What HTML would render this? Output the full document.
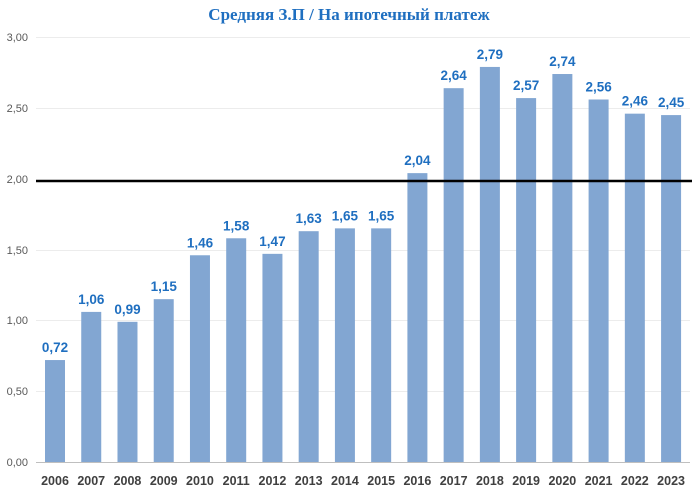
<!DOCTYPE html>
<html><head><meta charset="utf-8"><style>body{margin:0;background:#fff}svg{display:block}</style></head><body>
<svg width="700" height="490" xmlns="http://www.w3.org/2000/svg" font-family="Liberation Sans, sans-serif">
<text x="349" y="20" text-anchor="middle" font-family="Liberation Serif, serif" font-weight="bold" font-size="17" fill="#1f6fc0">Средняя З.П / На ипотечный платеж</text>
<g stroke="#ececec" stroke-width="1">
<line x1="36" x2="690" y1="37.5" y2="37.5"/><line x1="36" x2="690" y1="108.5" y2="108.5"/><line x1="36" x2="690" y1="250.5" y2="250.5"/><line x1="36" x2="690" y1="320.5" y2="320.5"/><line x1="36" x2="690" y1="391.5" y2="391.5"/>
</g>
<g font-size="11" fill="#595959" text-anchor="end">
<text x="28" y="41">3,00</text><text x="28" y="112">2,50</text><text x="28" y="183">2,00</text><text x="28" y="254">1,50</text><text x="28" y="324">1,00</text><text x="28" y="395">0,50</text><text x="28" y="466">0,00</text>
</g>
<g id="bars" fill="#82a6d2"></g>
<line x1="36" x2="690" y1="462.5" y2="462.5" stroke="#bfbfbf"/>
<line x1="36" x2="692" y1="181" y2="181" stroke="#000" stroke-width="2.5"/>
<g id="lbl"></g>
<script>
var v=[0.72,1.06,0.99,1.15,1.46,1.58,1.47,1.63,1.65,1.65,2.04,2.64,2.79,2.57,2.74,2.56,2.46,2.45];
var b=document.getElementById('bars'),l=document.getElementById('lbl'),ns='http://www.w3.org/2000/svg';
v.forEach(function(d,i){var x=45+i*36.24,h=d*141.6,y=462-h;
var r=document.createElementNS(ns,'rect');r.setAttribute('x',x);r.setAttribute('y',y);r.setAttribute('width',20);r.setAttribute('height',h);b.appendChild(r);
var t=document.createElementNS(ns,'text');t.setAttribute('x',x+10);t.setAttribute('y',y-8);t.setAttribute('text-anchor','middle');t.setAttribute('font-size','13.5');t.setAttribute('font-weight','bold');t.setAttribute('fill','#1f6fc0');t.textContent=d.toFixed(2).replace('.',',');l.appendChild(t);
var y2=document.createElementNS(ns,'text');y2.setAttribute('x',x+10);y2.setAttribute('y',485);y2.setAttribute('text-anchor','middle');y2.setAttribute('font-size','12.5');y2.setAttribute('font-weight','bold');y2.setAttribute('fill','#404040');y2.textContent=2006+i;l.appendChild(y2);});
</script>
</svg>
</body></html>
